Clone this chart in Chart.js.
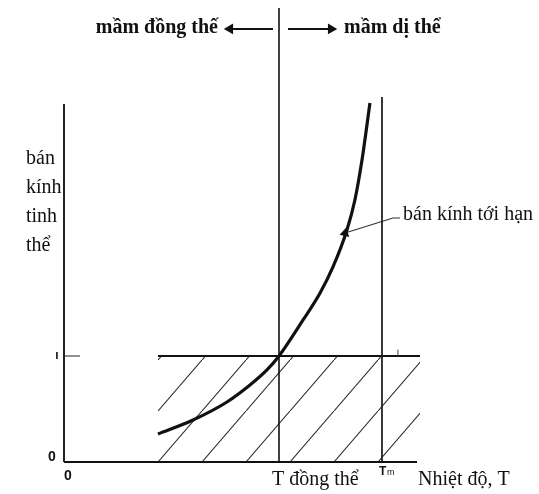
<!DOCTYPE html>
<html>
<head>
<meta charset="utf-8">
<script src="https://cdn.jsdelivr.net/npm/chart.js@4"></script>
<style>
  html, body { margin: 0; padding: 0; background: #fff; }
  #wrap { width: 539px; height: 494px; }
</style>
</head>
<body>
<div id="wrap"><canvas id="nucChart"></canvas></div>
<script>
// critical radius curve (x = temperature, y = radius, r* = 1 at T homo = 1)
const curveX = [0.437, 0.600, 0.758, 0.865, 0.944, 1.000, 1.112, 1.191, 1.251, 1.316, 1.353, 1.386, 1.423];
const curveY = [0.264, 0.396, 0.566, 0.726, 0.868, 1.000, 1.340, 1.594, 1.840, 2.189, 2.472, 2.849, 3.387];

// key temperatures / radius
const tHomo = 1.0;
const tMelt = 1.479;
const rCrit = 1.0;

// extents of the drawn lines
const yAxisTop = 3.377;
const xAxisEnd = 1.642;
const tHomoTop = 4.283;
const tMeltTop = 3.443;
const hatchFrom = 0.437;
const hatchTo = 1.656;

// leader line to the curve and the two top arrows
const leaderX = [1.563, 1.530, 1.307];
const leaderY = [2.302, 2.302, 2.160];
const arrowY = 4.085;
const leftArrowX = [0.972, 0.772];
const rightArrowX = [1.042, 1.242];

// texts
const topLabels = ['mầm đồng thế', 'mầm dị thể'];
const yTitle = ['bán', 'kính', 'tinh', 'thể'];
const curveLabel = 'bán kính tới hạn';
const xTitle = 'Nhiệt độ, T';
const xTickValues = [0, tHomo, tMelt];
const xTickLabels = ['0', 'T đồng thể', 'T'];
const yTickValues = [0, rCrit];
const yTickLabels = ['0', 'ı'];

const pts = (xs, ys) => xs.map((v, i) => ({ x: v, y: ys[i] }));
const seg = (x0, y0, x1, y1) => [{ x: x0, y: y0 }, { x: x1, y: y1 }];

function hatchPattern(chart) {
  const W = 44, H = 51;
  const c = document.createElement('canvas');
  c.width = W; c.height = H;
  const g = c.getContext('2d');
  g.strokeStyle = '#2a2a2a';
  g.lineWidth = 1.1;
  g.beginPath();
  g.moveTo(-2, H + 2 * H / W);
  g.lineTo(W + 2, -2 * H / W);
  g.stroke();
  const p = chart.ctx.createPattern(c, 'repeat');
  const tx = chart.scales.x.getPixelForValue(hatchFrom);
  const ty = chart.scales.y.getPixelForValue(0) - H;
  p.setTransform(new DOMMatrix([1, 0, 0, 1, tx, ty]));
  return p;
}

function arrowAngle(chart, xs, ys) {
  const { x, y } = chart.scales;
  const n = xs.length;
  const dx = x.getPixelForValue(xs[n - 1]) - x.getPixelForValue(xs[n - 2]);
  const dy = y.getPixelForValue(ys[n - 1]) - y.getPixelForValue(ys[n - 2]);
  return Math.atan2(dx, -dy) * 180 / Math.PI;
}

const plain = { showLine: true, pointRadius: 0, borderColor: '#111', fill: false, tension: 0 };

const labelPlugin = {
  id: 'labels',
  afterDatasetsDraw(chart) {
    const { ctx } = chart;
    const { x, y } = chart.scales;
    const serif = '"Liberation Serif", "Times New Roman", serif';
    const sans = '"Liberation Sans", Arial, sans-serif';
    const put = (txt, vx, vy, font, align, base, dx = 0, dy = 0) => {
      ctx.font = font;
      ctx.textAlign = align;
      ctx.textBaseline = base;
      ctx.fillText(txt, x.getPixelForValue(vx) + dx, y.getPixelForValue(vy) + dy);
    };
    ctx.save();
    ctx.fillStyle = '#111';

    put(topLabels[0], leftArrowX[1], arrowY, 'bold 20px ' + serif, 'right', 'alphabetic', -12, 4);
    put(topLabels[1], rightArrowX[1], arrowY, 'bold 20px ' + serif, 'left', 'alphabetic', 13, 4);

    yTitle.forEach((t, i) => put(t, 0, yAxisTop, '20px ' + serif, 'left', 'alphabetic', -38, 60 + i * 29));

    put(curveLabel, leaderX[0], leaderY[0], '20px ' + serif, 'left', 'alphabetic', 3, 2);

    // x ticks
    put(xTickLabels[0], xTickValues[0], 0, 'bold 14px ' + sans, 'center', 'middle', 4, 14);
    put(xTickLabels[1], xTickValues[1], 0, '20px ' + serif, 'left', 'alphabetic', -7, 23);
    put(xTickLabels[2], xTickValues[2], 0, 'bold 12px ' + sans, 'left', 'alphabetic', -3, 13);
    put('m', xTickValues[2], 0, '9px ' + sans, 'left', 'alphabetic', 5, 13);
    put(xTitle, xAxisEnd, 0, '20px ' + serif, 'left', 'alphabetic', 1, 23);

    // y ticks
    put(yTickLabels[0], 0, yTickValues[0], 'bold 14px ' + sans, 'center', 'middle', -12, -5);
    put(yTickLabels[1], 0, yTickValues[1], 'bold 12px ' + sans, 'center', 'middle', -7, 0);
    ctx.restore();
  }
};

new Chart(document.getElementById('nucChart'), {
  type: 'scatter',
  data: {
    datasets: [
      { ...plain, data: pts(curveX, curveY), borderWidth: 3.2, cubicInterpolationMode: 'monotone' },
      { ...plain, data: seg(0, 0, 0, yAxisTop), borderWidth: 2, borderColor: '#222' },
      { ...plain, data: seg(0, 0, xAxisEnd, 0), borderWidth: 2.2 },
      { ...plain, data: seg(tHomo, 0, tHomo, tHomoTop), borderWidth: 1.6 },
      { ...plain, data: seg(tMelt, 0, tMelt, tMeltTop), borderWidth: 1.8, borderColor: '#222' },
      { ...plain, data: seg(0, rCrit, 0.074, rCrit), borderWidth: 1.2, borderColor: '#444' },
      { ...plain, data: seg(1.553, rCrit, 1.553, rCrit + 0.06), borderWidth: 1, borderColor: '#444' },
      {
        ...plain, data: pts(leaderX, leaderY), borderWidth: 1.2, borderColor: '#333',
        pointRadius: [0, 0, 4.5], pointStyle: 'triangle', pointBackgroundColor: '#111', pointBorderColor: '#111',
        rotation: (c) => arrowAngle(c.chart, leaderX, leaderY)
      },
      {
        ...plain, data: seg(leftArrowX[0], arrowY, leftArrowX[1], arrowY), borderWidth: 2.2,
        pointRadius: [0, 4], pointStyle: 'triangle', pointBackgroundColor: '#111', pointBorderColor: '#111', rotation: -90
      },
      {
        ...plain, data: seg(rightArrowX[0], arrowY, rightArrowX[1], arrowY), borderWidth: 2.2,
        pointRadius: [0, 4], pointStyle: 'triangle', pointBackgroundColor: '#111', pointBorderColor: '#111', rotation: 90
      },
      {
        ...plain, data: seg(hatchFrom, rCrit, hatchTo, rCrit), borderWidth: 2,
        fill: 'origin',
        backgroundColor: (c) => c.chart.chartArea ? hatchPattern(c.chart) : 'transparent'
      }
    ]
  },
  options: {
    responsive: true,
    maintainAspectRatio: false,
    animation: false,
    layout: { padding: 0, autoPadding: false },
    plugins: { legend: { display: false }, tooltip: { enabled: false } },
    scales: {
      x: { type: 'linear', min: -0.2977, max: 2.2093, display: false },
      y: { type: 'linear', min: -0.3019, max: 4.3585, display: false }
    }
  },
  plugins: [labelPlugin]
});
</script>
</body>
</html>
